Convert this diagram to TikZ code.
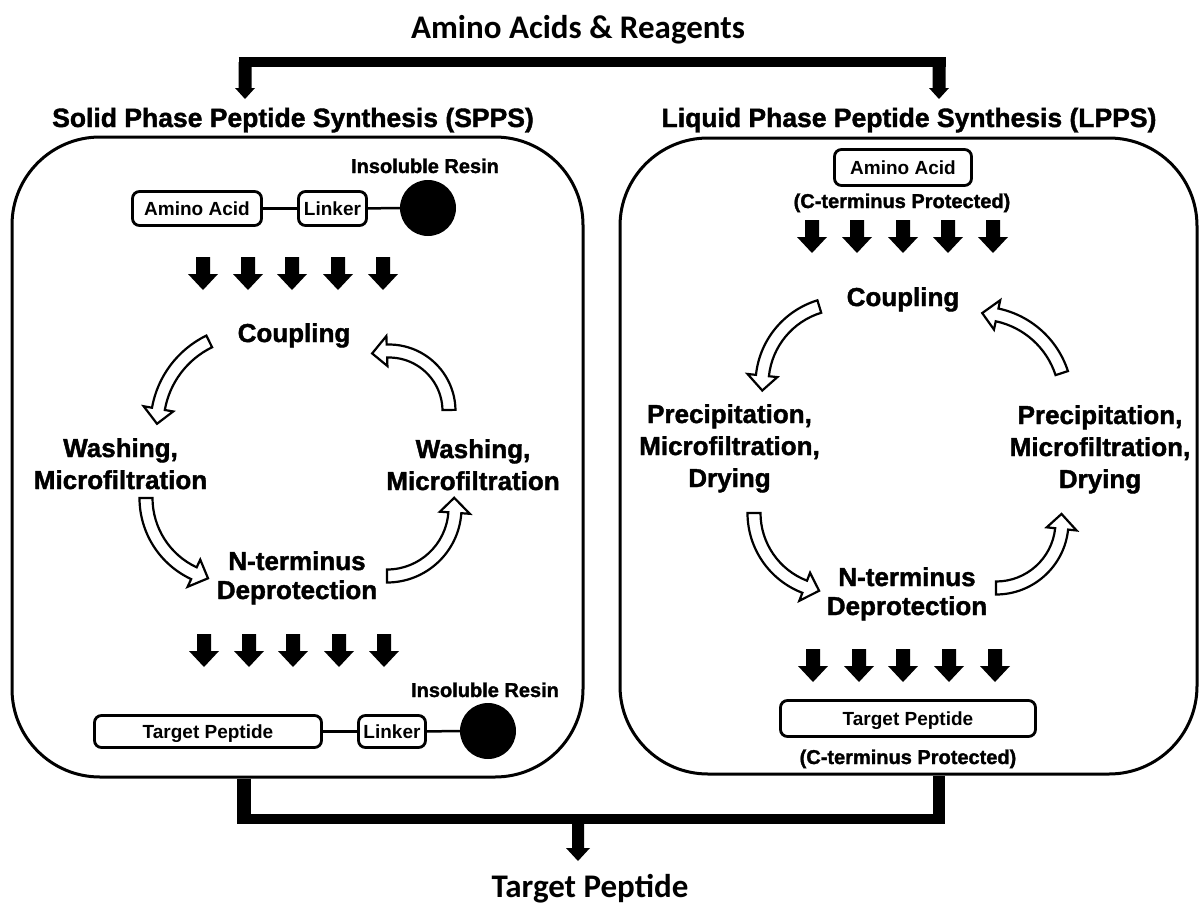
\documentclass[tikz,border=0pt]{standalone}
\usepackage{fontspec}
\setmainfont{Liberation Sans}
\newfontfamily\heavyfont{Liberation Sans}[BoldFeatures={FakeBold=1.5}]
\newfontfamily\captionfont{Carlito}
\usetikzlibrary{calc}

\tikzset{
  titletext/.style={font=\captionfont\fontsize{33}{38}\selectfont\bfseries, inner sep=0pt, anchor=base},
  header/.style={font=\heavyfont\fontsize{26.5}{32}\selectfont\bfseries, inner sep=0pt, anchor=base},
  steplabel/.style={font=\heavyfont\fontsize{26}{32}\selectfont\bfseries, align=center, inner sep=0pt, anchor=north},
  pairlabel/.style={steplabel, font=\heavyfont\fontsize{26}{29}\selectfont\bfseries},
  notelabel/.style={font=\heavyfont\fontsize{20}{24}\selectfont\bfseries, inner sep=0pt, anchor=base},
  smallbox/.style={draw, line width=2.8pt, rounded corners=7pt, inner sep=0pt,
    text height=13.6pt, text depth=0pt, font=\fontsize{19}{22}\selectfont\bfseries},
  panel/.style={draw, line width=3pt, rounded corners=88pt, inner sep=0pt},
  resin/.style={circle, fill=black, minimum size=56pt, inner sep=0pt},
  link/.style={line width=2.5pt},
  hollow/.style={draw, fill=white, line width=2.2pt, line join=miter},
  fatdown/.pic={\fill (-7,0) -- (7,0) -- (7,17) -- (15,17) -- (0,33) -- (-15,17) -- (-7,17) -- cycle;}
}

% curved hollow arrow along a circle: centre x, centre y, radius, tail angle, head-base angle
\newcommand\hollowarc[5]{%
  \pgfmathsetmacro\hoRo{#3+6.5}%
  \pgfmathsetmacro\hoRi{#3-6.5}%
  \pgfmathsetmacro\hoHo{#3+15}%
  \pgfmathsetmacro\hoHi{#3-15}%
  \pgfmathsetmacro\hoTip{#5-deg(15/#3)}%
  \draw[hollow] ($(#1,#2)+(#4:\hoRo)$) arc[start angle=#4, end angle=#5, radius=\hoRo]
    -- ($(#1,#2)+(#5:\hoHo)$) -- ($(#1,#2)+(\hoTip:#3)$) -- ($(#1,#2)+(#5:\hoHi)$)
    -- ($(#1,#2)+(#5:\hoRi)$) arc[start angle=#5, end angle=#4, radius=\hoRi] -- cycle;%
}

% thick vertical feed arrow: from, tip, shaft half width, head half width, head length
\newcommand\feedarrow[5]{%
  \fill ($(#1)+(-#3,0)$) -- ($(#1)+(#3,0)$) -- ($(#2)+(#3,-#5)$) -- ($(#2)+(#4,-#5)$)
    -- (#2) -- ($(#2)+(-#4,-#5)$) -- ($(#2)+(-#3,-#5)$) -- cycle;%
}

\begin{document}
\begin{tikzpicture}[x=1pt,y=-1pt]
\useasboundingbox (0,0) rectangle (1200,905);

% ---------- feed from the top ----------
\node[titletext] (feed) at (578,38.5) {Amino Acids \& Reagents};
\coordinate (feedL) at (245,62);
\coordinate (feedR) at (939,62);
\coordinate (tipL) at (245,99);
\coordinate (tipR) at (939,99);
\draw[line width=10pt] ($(feedL)+(-6.5,0)$) -- ($(feedR)+(6.5,0)$);
\feedarrow{feedL}{tipL}{6.5}{10}{11}
\feedarrow{feedR}{tipR}{6.5}{10}{11}

% ---------- panels ----------
\node[header] (spph) at (293,127) {Solid Phase Peptide Synthesis (SPPS)};
\node[header] (lpph) at (909,127) {Liquid Phase Peptide Synthesis (LPPS)};
\node[panel, minimum width=571pt, minimum height=640pt] (spps) at (297.5,457) {};
\node[panel, minimum width=577pt, minimum height=636pt] (lpps) at (908.5,456) {};

% ---------- SPPS ----------
\node[notelabel] (res1l) at (425,173) {Insoluble Resin};
\node[smallbox, minimum width=129pt, minimum height=34pt] (aa1) at (197,208.5) {Amino Acid};
\node[smallbox, minimum width=68pt, minimum height=34pt] (lk1) at (332.5,208.5) {Linker};
\node[resin] (r1) at (428,208) {};
\draw[link] (aa1) -- (lk1);
\draw[link] (lk1) -- (r1);

\foreach \x in {203,248,292,338,383} \pic at (\x,257) {fatdown};

\node[steplabel] (sc) at (294,323) {Coupling};
\node[steplabel] (swl) at (120.5,438) {Washing,\\Microfiltration};
\node[steplabel] (swr) at (473,439) {Washing,\\Microfiltration};
\node[pairlabel] (sdp) at (297,551) {N-terminus\\Deprotection};

\hollowarc{250}{425}{93}{244}{190}
\hollowarc{229}{498}{83}{180}{115}
\hollowarc{387}{508}{68}{90}{4}
\hollowarc{389}{411}{60}{359}{268}

\foreach \x in {204,249,293,339,384} \pic at (\x,634) {fatdown};

\node[notelabel] (res2l) at (485,697) {Insoluble Resin};
\node[smallbox, minimum width=227pt, minimum height=32pt] (tp1) at (208,731.5) {Target Peptide};
\node[smallbox, minimum width=67pt, minimum height=32pt] (lk2) at (392,731.5) {Linker};
\node[resin] (r2) at (488,731) {};
\draw[link] (tp1) -- (lk2);
\draw[link] (lk2) -- (r2);

% ---------- LPPS ----------
\node[smallbox, minimum width=137pt, minimum height=36pt] (aa2) at (903,167.5) {Amino Acid};
\node[notelabel] (cp1) at (902,208) {(C-terminus Protected)};

\foreach \x in {812,857,903,948,993} \pic at (\x,220) {fatdown};

\node[steplabel] (lc) at (903,287) {Coupling};
\node[steplabel] (lpl) at (729.5,404) {Precipitation,\\Microfiltration,\\Drying};
\node[steplabel] (lpr) at (1100,405) {Precipitation,\\Microfiltration,\\Drying};
\node[pairlabel] (ldp) at (907,567) {N-terminus\\Deprotection};

\hollowarc{843}{384}{81}{253}{186}
\hollowarc{833}{513}{79}{180}{111}
\hollowarc{996}{522}{66}{90}{6}
\hollowarc{979}{400}{87}{342}{282}

\foreach \x in {813,859,903,949,995} \pic at (\x,649) {fatdown};

\node[smallbox, minimum width=255pt, minimum height=36pt] (tp2) at (908,718.5) {Target Peptide};
\node[notelabel] (cp2) at (908,764) {(C-terminus Protected)};

% ---------- output at the bottom ----------
\coordinate (joinL) at (244,819);
\coordinate (joinR) at (939,819);
\coordinate (joinM) at (578,819);
\coordinate (outTip) at (578,861);
\draw[line width=14pt] (spps.south -| joinL) -- ($(joinL)+(0,5)$);
\draw[line width=12pt] (lpps.south -| joinR) -- ($(joinR)+(0,5)$);
\draw[line width=10pt] ($(joinL)+(-7,0)$) -- ($(joinR)+(6,0)$);
\feedarrow{joinM}{outTip}{6}{12}{13}
\node[titletext] (final) at (590,897) {Target Peptide};
\end{tikzpicture}
\end{document}
